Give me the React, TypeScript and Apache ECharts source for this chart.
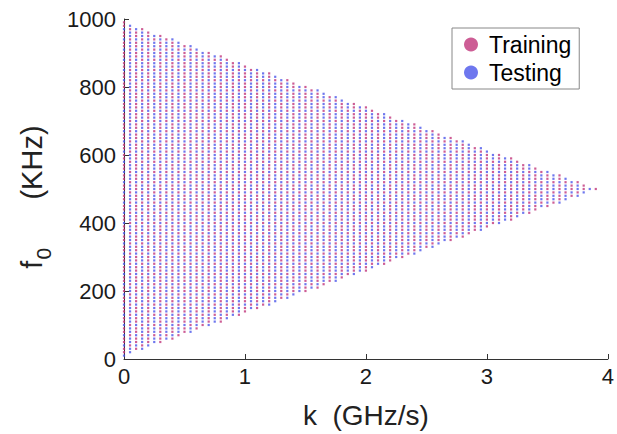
import React, { useEffect, useRef } from "react";
import * as echarts from "echarts";

// Sweep grid: columns of k (GHz/s), rows of f0 (KHz)
const kColumns: number[] = [
  0, 0.05, 0.1, 0.15, 0.2, 0.25, 0.3, 0.35, 0.4, 0.45, 0.5, 0.55, 0.6, 0.65, 0.7, 0.75, 0.8, 0.85, 0.9, 0.95,
  1, 1.05, 1.1, 1.15, 1.2, 1.25, 1.3, 1.35, 1.4, 1.45, 1.5, 1.55, 1.6, 1.65, 1.7, 1.75, 1.8, 1.85, 1.9, 1.95,
  2, 2.05, 2.1, 2.15, 2.2, 2.25, 2.3, 2.35, 2.4, 2.45, 2.5, 2.55, 2.6, 2.65, 2.7, 2.75, 2.8, 2.85, 2.9, 2.95,
  3, 3.05, 3.1, 3.15, 3.2, 3.25, 3.3, 3.35, 3.4, 3.45, 3.5, 3.55, 3.6, 3.65, 3.7, 3.75, 3.8, 3.85, 3.9,
];
const f0Rows: number[] = [];
for (let f = 10; f <= 990; f += 10) f0Rows.push(f);
// triangle envelope: f0 within [10 + 125k, 990 - 125k]
const envelopeSlope = 125;

const xTicks = [0, 1, 2, 3, 4];
const yTicks = [0, 200, 400, 600, 800, 1000];

const training: number[][] = [];
const testing: number[][] = [];
kColumns.forEach((k, i) => {
  const lo = 10 + envelopeSlope * k - 1e-6;
  const hi = 990 - envelopeSlope * k + 1e-6;
  f0Rows.forEach((f, j) => {
    if (f < lo || f > hi) return;
    const isTrain = (i % 2 === 0) !== (j % 3 === 0);
    (isTrain ? training : testing).push([k, f]);
  });
});

const TRAIN_COLOR = "#C0347A";
const TEST_COLOR = "#4A55EA";
const FONT = "Liberation Sans, Arial, Helvetica, sans-serif";

export default function App() {
  const ref = useRef<HTMLDivElement>(null);
  useEffect(() => {
    if (!ref.current) return;
    const chart = echarts.init(ref.current, null, { renderer: "svg" });
    chart.setOption({
      animation: false,
      backgroundColor: "#fff",
      textStyle: { fontFamily: FONT },
      grid: { left: 124, right: 7, top: 19, bottom: 73, containLabel: false },
      legend: {
        left: 452,
        top: 28,
        orient: "vertical",
        data: ["Training", "Testing"],
        icon: "circle",
        itemWidth: 14,
        itemHeight: 14,
        itemGap: 5,
        padding: [5, 8, 5, 12],
        borderColor: "#888",
        borderWidth: 1,
        borderRadius: 0,
        backgroundColor: "#fff",
        textStyle: { fontSize: 23, color: "#000", fontFamily: FONT, padding: [0, 0, 0, 6] },
      },
      xAxis: {
        type: "value",
        min: 0,
        max: 4,
        interval: 1,
        name: "k  (GHz/s)",
        nameLocation: "middle",
        nameGap: 42,
        nameTextStyle: { fontSize: 28, color: "#222", fontFamily: FONT },
        axisLine: { show: true, lineStyle: { color: "#333", width: 1 } },
        axisTick: { show: true, inside: true, length: 5, lineStyle: { color: "#333" } },
        axisLabel: { fontSize: 22, color: "#1a1a1a", margin: 6, formatter: (v: number) => (xTicks.includes(v) ? String(v) : "") },
        splitLine: { show: false },
      },
      yAxis: {
        type: "value",
        min: 0,
        max: 1000,
        interval: 200,
        name: "{a|f}{b|0}{a|      (KHz)  }",
        nameLocation: "middle",
        nameGap: 70,
        nameTextStyle: {
          rich: {
            a: { fontSize: 29, color: "#222", fontFamily: FONT },
            b: { fontSize: 21, color: "#222", padding: [24, 0, 0, 1], fontFamily: FONT },
          },
        },
        axisLine: { show: true, lineStyle: { color: "#333", width: 1 } },
        axisTick: { show: true, inside: true, length: 5, lineStyle: { color: "#333" } },
        axisLabel: { fontSize: 22, color: "#1a1a1a", margin: 8, formatter: (v: number) => (yTicks.includes(v) ? String(v) : "") },
        splitLine: { show: false },
      },
      series: [
        {
          name: "Training",
          type: "scatter",
          data: training,
          symbol: "rect",
          symbolSize: 2.2,
          itemStyle: { color: TRAIN_COLOR },
          silent: true,
        },
        {
          name: "Testing",
          type: "scatter",
          data: testing,
          symbol: "rect",
          symbolSize: 2.2,
          itemStyle: { color: TEST_COLOR },
          silent: true,
        },
      ],
    });
    return () => chart.dispose();
  }, []);
  return <div ref={ref} style={{ position: "absolute", left: 0, top: 0, width: 617, height: 434 }} />;
}
